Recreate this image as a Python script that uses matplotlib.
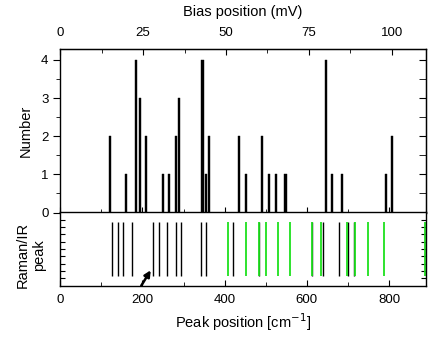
import matplotlib
matplotlib.use("Agg")
import matplotlib.pyplot as plt
from matplotlib.ticker import MultipleLocator, FixedLocator

plt.rcParams['font.family'] = ['Liberation Sans', 'DejaVu Sans']

# Histogram of peak positions (cm^-1) and counts
hist_pos = [120, 161, 185, 193, 209, 250, 265, 282, 290, 346, 354, 362,
            435, 452, 491, 508, 524, 548, 646, 662, 686, 792, 808]
hist_cnt = [2, 1, 4, 3, 2, 1, 1, 2, 3, 4, 1, 2,
            2, 1, 2, 1, 1, 1, 4, 1, 1, 1, 2]

# Raman (black) and IR (green) peak positions
raman_peaks = [126.5, 139.7, 153.3, 175.2, 224.8, 239.4, 260.3, 281.5, 294.4,
               341.6, 354.5, 419.5, 482.7, 611.5, 638.4, 678.8, 700.7, 714.6]
ir_peaks = [408, 451.8, 484.5, 500.5, 530.4, 558.9, 613.5, 635, 698.3,
            716.8, 747.7, 787.6, 888]

bias_ticks = [0, 25, 50, 75, 100]
CM_PER_MEV = 8.0655
XMAX = 890

fig = plt.figure(figsize=(4.36, 3.52), dpi=100)
ax1 = fig.add_axes([0.1383, 0.3963, 0.9771 - 0.1383, 0.4659])
ax2 = fig.add_axes([0.1383, 0.1884, 0.9771 - 0.1383, 0.2080])

ax1.bar(hist_pos, hist_cnt, width=5, color='black', edgecolor='black', linewidth=0.3)
ax1.set_xlim(0, XMAX)
ax1.set_ylim(0, 4.30)
ax1.set_yticks([0, 1, 2, 3, 4])
ax1.yaxis.set_minor_locator(MultipleLocator(0.5))
ax1.xaxis.set_major_locator(MultipleLocator(200))
ax1.xaxis.set_minor_locator(MultipleLocator(100))
ax1.tick_params(axis='x', which='both', direction='in', labelbottom=False, top=False)
ax1.tick_params(axis='x', which='major', length=4)
ax1.tick_params(axis='x', which='minor', length=3)
ax1.tick_params(axis='y', which='both', direction='out', left=True, right=False, labelsize=9.5)
ax1.tick_params(axis='y', which='major', length=5)
ax1.tick_params(axis='y', which='minor', length=3)
ax1.set_ylabel('Number', fontsize=10.5, labelpad=6)

# right-side inward ticks
axr = ax1.secondary_yaxis('right')
axr.set_yticks([0, 1, 2, 3, 4])
axr.yaxis.set_minor_locator(MultipleLocator(0.5))
axr.tick_params(which='both', direction='in', labelright=False, length=5)

secx = ax1.secondary_xaxis('top', functions=(lambda x: x / CM_PER_MEV, lambda x: x * CM_PER_MEV))
secx.xaxis.set_major_locator(FixedLocator(bias_ticks))
secx.xaxis.set_minor_locator(FixedLocator([12.5, 37.5, 62.5, 87.5]))
secx.tick_params(which='both', direction='in', labelsize=9.5, pad=7)
secx.tick_params(which='major', length=4)
secx.tick_params(which='minor', length=3)
secx.set_xlabel('Bias position (mV)', fontsize=10.5, labelpad=8)

for p in raman_peaks:
    ax2.plot([p, p], [0.13, 0.87], color='black', lw=1.0, solid_capstyle='butt')
for p in ir_peaks:
    ax2.plot([p, p], [0.13, 0.87], color='#1ee01e', lw=1.3, solid_capstyle='butt')

ax2.annotate('', xy=(220, 0.21), xytext=(197, 0.0),
             arrowprops=dict(arrowstyle='-|>', color='black', lw=1.8,
                             mutation_scale=9, shrinkA=0, shrinkB=0))

ax2.set_xlim(0, XMAX)
ax2.set_ylim(0, 1)
ax2.set_yticks([0.1 * i for i in range(1, 10)])
ax2.tick_params(axis='y', which='both', direction='in', left=True, right=True,
                labelleft=False, length=3.5)
ax2.xaxis.set_major_locator(MultipleLocator(200))
ax2.xaxis.set_minor_locator(MultipleLocator(100))
ax2.tick_params(axis='x', which='both', direction='in', labelsize=9.5, pad=6)
ax2.tick_params(axis='x', which='major', length=4)
ax2.tick_params(axis='x', which='minor', length=3)
ax2.set_xlabel('Peak position [cm$^{-1}$]', fontsize=10.5, labelpad=4)
ax2.set_ylabel('Raman/IR\npeak', fontsize=10.5, linespacing=1.15)
ax2.yaxis.set_label_coords(-0.04, 0.42)

for ax in (ax1, ax2):
    for s in ax.spines.values():
        s.set_linewidth(1.0)

fig.savefig('out.png', dpi=100)
